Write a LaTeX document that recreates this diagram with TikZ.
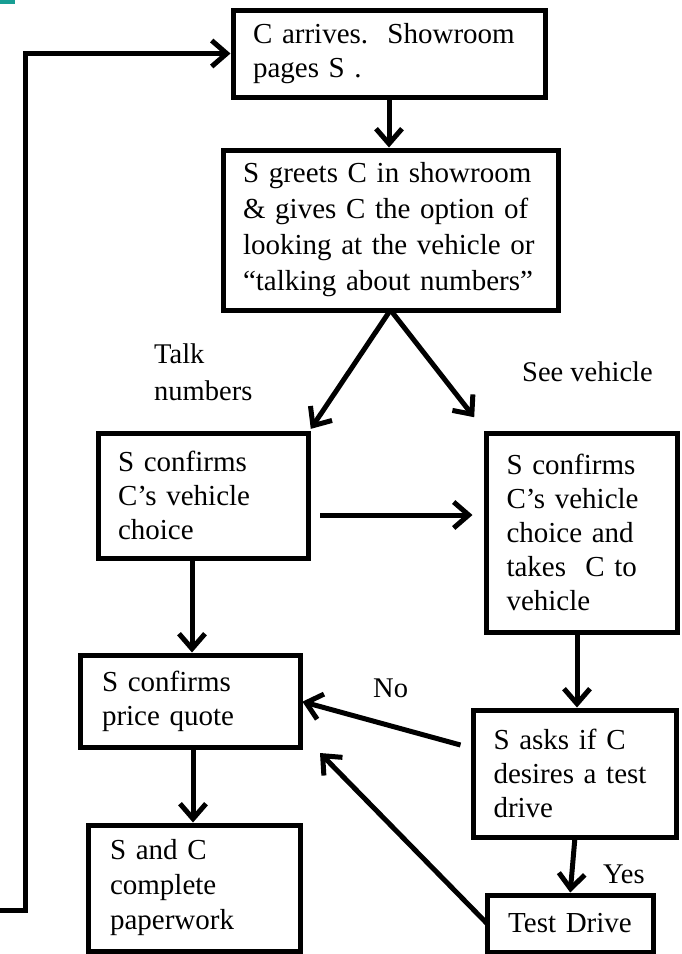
\documentclass[tikz,border=0pt]{standalone}
\usepackage{fontspec}
\setmainfont{Liberation Serif}
\usetikzlibrary{arrows.meta,calc}
\definecolor{tealmark}{RGB}{24,158,148}
\begin{document}
\begin{tikzpicture}[x=1pt,y=-1pt,
  every node/.style={font=\fontsize{29}{34}\selectfont},
  box/.style={draw, line width=5pt, outer sep=0pt, inner xsep=20pt, inner ysep=0pt, align=left},
  arr/.style={line width=5pt, -{Straight Barb[length=15pt,width=26pt]}},
  lbl/.style={inner sep=0pt, align=left, font=\fontsize{28.5}{37}\selectfont}]
\useasboundingbox (0,0) rectangle (681,954);
\fill[tealmark] (0,0) rectangle (15,4);

\node[box, text width=272pt, minimum height=87pt] (b1) at (389,53.5) {C arrives.\ \ Showroom\\pages S .};
\node[box, text width=295pt, minimum height=160pt, font=\fontsize{29}{36}\selectfont] (b2) at (390.5,230) {S greets C in showroom\\\& gives C the option of\\looking at the vehicle or\\“talking about numbers”};
\node[box, text width=170pt, minimum height=125pt] (b3) at (203,495.5) {S confirms\\C’s vehicle\\choice};
\node[box, text width=151pt, minimum height=199pt] (b4) at (582,532.5) {S confirms\\C’s vehicle\\choice and\\takes\ \ C to\\vehicle};
\node[box, text width=176pt, minimum height=92pt, inner xsep=22pt] (b5) at (190,701) {S confirms\\price quote};
\node[box, text width=168pt, minimum height=126pt, inner xsep=22pt, font=\fontsize{29}{35}\selectfont] (b6) at (194,888) {S and C\\complete\\paperwork};
\node[box, text width=163pt, minimum height=127pt] (b7) at (575,773.5) {S asks if C\\desires a test\\drive};
\node[box, align=center, text width=126pt, minimum height=57pt] (b8) at (570,923.5) {Test Drive};

\node[lbl, anchor=north west] (tn) at (154,344) {Talk\\numbers};
\node[lbl, anchor=base west] (sv) at (522,381) {See vehicle};
\node[lbl, anchor=base west] (no) at (373,697) {No};
\node[lbl, anchor=base west] (yes) at (603,883) {Yes};

\draw[arr, shorten >=2.5pt] (b1.south) -- (b1.south |- b2.north);
\draw[arr, shorten >=5pt] (b2.south) -- (b3.north east);
\draw[arr, shorten >=20pt] (b2.south) -- (b4.north west);
\path ($(b3.east)+(12,19.5)$) coordinate (h1);
\draw[arr, shorten >=14pt] (h1) -- (h1 -| b4.west);
\draw[arr, shorten >=2.5pt] ([xshift=-11pt]b3.south) -- ([xshift=-11pt]b3.south |- b5.north);
\draw[arr, shorten >=2.5pt] ([xshift=3pt]b5.south) -- ([xshift=3pt]b5.south |- b6.north);
\draw[arr, shorten >=2.5pt] ([xshift=-5pt]b4.south) -- ([xshift=-5pt]b4.south |- b7.north);
\draw[arr, shorten >=2.5pt] (b7.south) -- (b8.north);
\draw[arr, shorten >=2.5pt] ($(b7.west)+(-13,-28.5)$) -- (b5.east);
\draw[arr] (b8.west) -- ($(b5.south east)+(20,6)$);
\coordinate (lp) at (0,910);
\draw[arr, shorten >=2.5pt] (lp) -- ++(25,0) |- (b1.west);
\end{tikzpicture}
\end{document}
